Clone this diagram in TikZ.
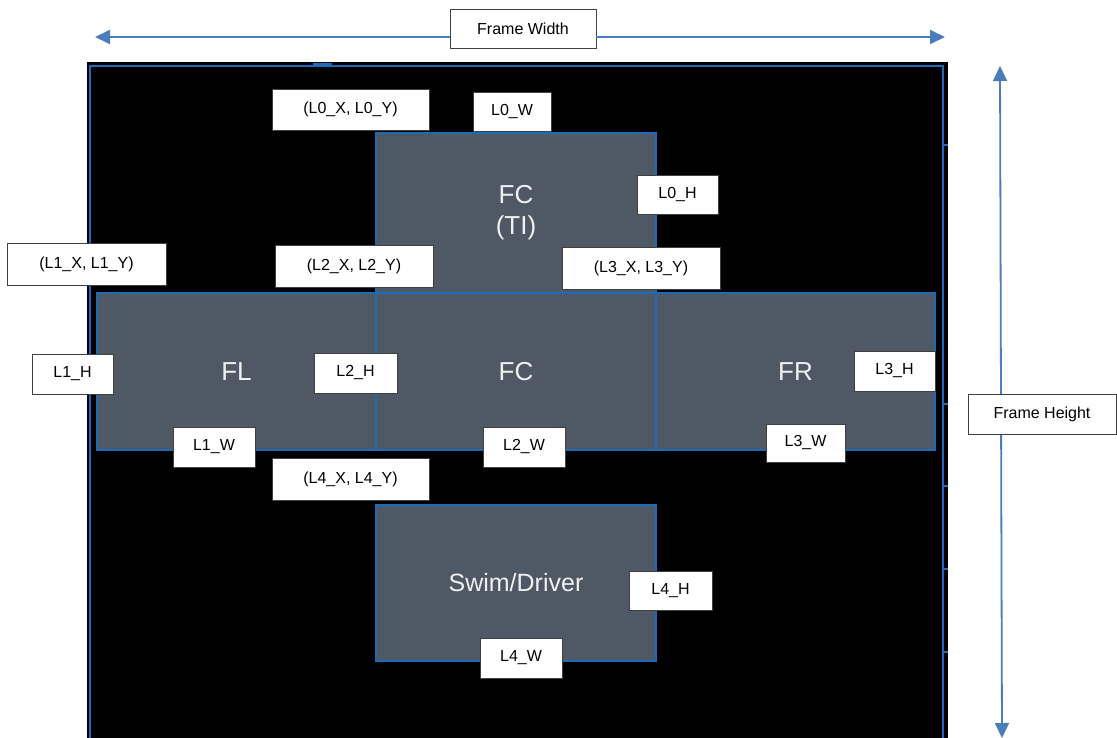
\documentclass[tikz,border=0pt]{standalone}
\usepackage{fontspec}
\setmainfont{Liberation Sans}
\usetikzlibrary{arrows.meta}
\definecolor{panel}{HTML}{4F5965}
\definecolor{edgeblue}{HTML}{1C6AB8}
\definecolor{arrowblue}{HTML}{4A7EBB}
\definecolor{lblborder}{HTML}{404040}
\tikzset{
  lbl/.style={draw=lblborder, line width=0.9pt, fill=white, inner sep=0pt, outer sep=0pt,
    font=\fontsize{16}{18}\selectfont, text=black},
  panelbox/.style={draw=edgeblue, line width=1.6pt, fill=panel, inner sep=0pt, outer sep=0pt,
    font=\fontsize{26}{31}\selectfont, text=white!94!black, align=center},
  dimarrow/.style={draw=arrowblue, line width=1.8pt, -{Triangle[length=15pt,width=14pt]}},
  dimarrows/.style={draw=arrowblue, line width=1.8pt, {Triangle[length=15pt,width=14pt]}-{Triangle[length=15pt,width=14pt]}},
  framebg/.style={fill=black},
  frameline/.style={draw=edgeblue, line width=1.6pt},
  tick/.style={draw=edgeblue, line width=1.2pt}
}
\newcommand{\boxat}[7]{%
  \node[#1, minimum width={(#5-#3)*1pt}, minimum height={(#6-#4)*1pt}] (#2) at ({(#3+#5)/2},{(#4+#6)/2}) {#7};}
\begin{document}
\begin{tikzpicture}[x=1pt,y=-1pt]
\useasboundingbox (0,0) rectangle (1117,738);
% frame
\fill[framebg] (87,62) rectangle (948,738);
\draw[frameline] (90,738) -- (90,66) -- (943,66) -- (943,738);
\draw[tick] (313,64) -- (332,64);
\draw[tick] (943,145) -- (948,145);
\draw[tick] (943,404) -- (948,404);
\draw[tick] (943,486) -- (948,486);
\draw[tick] (943,569) -- (948,569);
\draw[tick] (943,652) -- (948,652);
% panels
\boxat{panelbox}{fcti}{376}{133}{656}{293}{FC\\(TI)}
\boxat{panelbox}{fl}{97}{293}{376}{450}{FL}
\boxat{panelbox}{fc}{376}{293}{656}{450}{FC}
\boxat{panelbox}{fr}{656}{293}{935}{450}{FR}
\boxat{panelbox,font=\fontsize{25}{30}\selectfont}{swim}{376}{505}{656}{661}{Swim/Driver}
% dimension arrows
\coordinate (wl) at (95,37);
\coordinate (wr) at (945,37);
\coordinate (ht) at (1000,66);
\coordinate (hb) at (1002,738);
\boxat{lbl}{fw}{450}{9}{596}{48}{Frame Width}
\draw[dimarrow] (wl -| fw.west) -- (wl);
\draw[dimarrow] (wr -| fw.east) -- (wr);
\draw[dimarrows] (ht) -- (hb);
\boxat{lbl}{fh}{968}{394}{1116}{434}{Frame Height}
% labels
\boxat{lbl}{l0xy}{272}{89}{429}{130}{(L0\_X, L0\_Y)}
\boxat{lbl}{l0w}{473}{92}{551}{131}{L0\_W}
\boxat{lbl}{l0h}{637}{175}{718}{214}{L0\_H}
\boxat{lbl}{l1xy}{7}{243}{166}{285}{(L1\_X, L1\_Y)}
\boxat{lbl}{l2xy}{275}{245}{433}{287}{(L2\_X, L2\_Y)}
\boxat{lbl}{l3xy}{562}{247}{720}{289}{(L3\_X, L3\_Y)}
\boxat{lbl}{l1h}{32}{354}{113}{394}{L1\_H}
\boxat{lbl}{l2h}{314}{353}{397}{393}{L2\_H}
\boxat{lbl}{l3h}{854}{351}{935}{391}{L3\_H}
\boxat{lbl}{l1w}{173}{427}{255}{467}{L1\_W}
\boxat{lbl}{l2w}{483}{427}{565}{467}{L2\_W}
\boxat{lbl}{l3w}{766}{424}{845}{462}{L3\_W}
\boxat{lbl}{l4xy}{272}{458}{429}{500}{(L4\_X, L4\_Y)}
\boxat{lbl}{l4h}{629}{571}{712}{610}{L4\_H}
\boxat{lbl}{l4w}{480}{638}{562}{678}{L4\_W}
\end{tikzpicture}
\end{document}
